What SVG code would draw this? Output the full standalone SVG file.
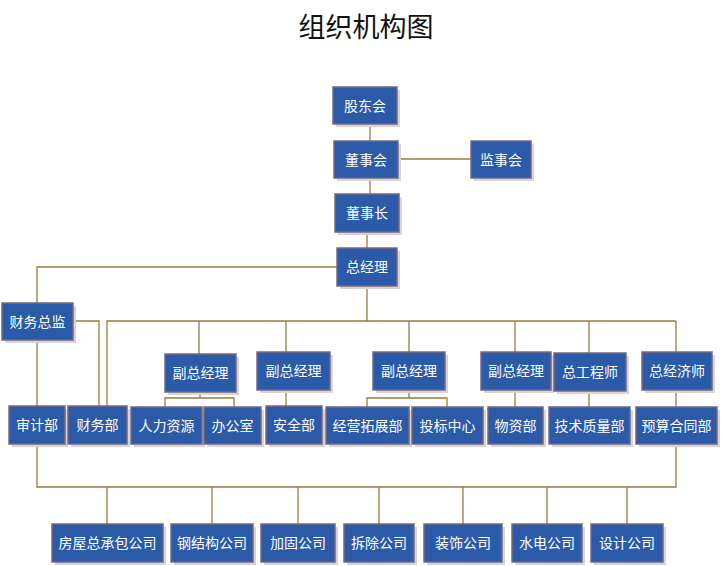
<svg xmlns="http://www.w3.org/2000/svg" width="721" height="566" viewBox="0 0 721 566">
<style>
.sh{fill:#dcd3d3}
.bx{fill:#2a5aa8;stroke:#76687e;stroke-width:1.5}
.t{font-family:"Noto Sans CJK SC","Noto Sans",sans-serif;font-size:14px;fill:#ffffff;text-anchor:middle}
.title{font-family:"Noto Sans CJK SC","Noto Sans",sans-serif;font-size:27px;fill:#111111;text-anchor:middle}
.c{fill:none;stroke:#9c7b3f;stroke-width:1.3}
</style>
<rect width="721" height="566" fill="#ffffff"/>
<text class="title" x="366" y="37">组织机构图</text>
<g id="connectors" class="c">
<path d="M370,124V141"/>
<path d="M398,159H471"/>
<path d="M370,178V194"/>
<path d="M367,232V248"/>
<path d="M337,267H37V303"/>
<path d="M367,286V321"/>
<path d="M107,406V321H676"/>
<path d="M73,321H99V406"/>
<path d="M37,340V406"/>
<path d="M199,321V354"/>
<path d="M286,321V352"/>
<path d="M409,321V352"/>
<path d="M515,321V352"/>
<path d="M589,321V353"/>
<path d="M676,321V352"/>
<path d="M200,392V398"/>
<path d="M165,407V398H234V407"/>
<path d="M286,390V406"/>
<path d="M409,390V398"/>
<path d="M367,407V398H447V407"/>
<path d="M515,390V407"/>
<path d="M589,391V407"/>
<path d="M676,390V407"/>
<path d="M37,444V487H676V444"/>
<path d="M107,487V524"/>
<path d="M212,487V524"/>
<path d="M298,487V524"/>
<path d="M379,487V524"/>
<path d="M463,487V524"/>
<path d="M547,487V524"/>
<path d="M627,487V524"/>
</g>
<g id="n1"><rect class="sh" x="336" y="90" width="64" height="37"/><rect class="bx" x="333" y="87" width="64" height="37"/><text class="t" x="365" y="110.5">股东会</text></g>
<g id="n2"><rect class="sh" x="337" y="144" width="64" height="37"/><rect class="bx" x="334" y="141" width="64" height="37"/><text class="t" x="366" y="164.5">董事会</text></g>
<g id="n3"><rect class="sh" x="474" y="144" width="60" height="37"/><rect class="bx" x="471" y="141" width="60" height="37"/><text class="t" x="501" y="164.5">监事会</text></g>
<g id="n4"><rect class="sh" x="338" y="197" width="64" height="38"/><rect class="bx" x="335" y="194" width="64" height="38"/><text class="t" x="367" y="218">董事长</text></g>
<g id="n5"><rect class="sh" x="340" y="251" width="60" height="38"/><rect class="bx" x="337" y="248" width="60" height="38"/><text class="t" x="367" y="272">总经理</text></g>
<g id="n6"><rect class="sh" x="5" y="306" width="71" height="37"/><rect class="bx" x="2" y="303" width="71" height="37"/><text class="t" x="37.5" y="326.5">财务总监</text></g>
<g id="n7"><rect class="sh" x="168" y="357" width="71" height="38"/><rect class="bx" x="165" y="354" width="71" height="38"/><text class="t" x="200.5" y="378">副总经理</text></g>
<g id="n8"><rect class="sh" x="260" y="355" width="73" height="38"/><rect class="bx" x="257" y="352" width="73" height="38"/><text class="t" x="293.5" y="376">副总经理</text></g>
<g id="n9"><rect class="sh" x="376" y="355" width="72" height="38"/><rect class="bx" x="373" y="352" width="72" height="38"/><text class="t" x="409" y="376">副总经理</text></g>
<g id="n10"><rect class="sh" x="484" y="355" width="70" height="38"/><rect class="bx" x="481" y="352" width="70" height="38"/><text class="t" x="516" y="376">副总经理</text></g>
<g id="n11"><rect class="sh" x="557" y="356" width="72" height="38"/><rect class="bx" x="554" y="353" width="72" height="38"/><text class="t" x="590" y="377">总工程师</text></g>
<g id="n12"><rect class="sh" x="645" y="355" width="70" height="38"/><rect class="bx" x="642" y="352" width="70" height="38"/><text class="t" x="677" y="376">总经济师</text></g>
<g id="n13"><rect class="sh" x="12" y="409" width="56" height="38"/><rect class="bx" x="9" y="406" width="56" height="38"/><text class="t" x="37" y="430">审计部</text></g>
<g id="n14"><rect class="sh" x="71" y="409" width="59" height="38"/><rect class="bx" x="68" y="406" width="59" height="38"/><text class="t" x="97.5" y="430">财务部</text></g>
<g id="n15"><rect class="sh" x="134" y="410" width="71" height="37"/><rect class="bx" x="131" y="407" width="71" height="37"/><text class="t" x="166.5" y="430.5">人力资源</text></g>
<g id="n16"><rect class="sh" x="207" y="410" width="57" height="37"/><rect class="bx" x="204" y="407" width="57" height="37"/><text class="t" x="232.5" y="430.5">办公室</text></g>
<g id="n17"><rect class="sh" x="269" y="409" width="56" height="38"/><rect class="bx" x="266" y="406" width="56" height="38"/><text class="t" x="294" y="430">安全部</text></g>
<g id="n18"><rect class="sh" x="329" y="410" width="83" height="37"/><rect class="bx" x="326" y="407" width="83" height="37"/><text class="t" x="367.5" y="430.5">经营拓展部</text></g>
<g id="n19"><rect class="sh" x="415" y="410" width="71" height="37"/><rect class="bx" x="412" y="407" width="71" height="37"/><text class="t" x="447.5" y="430.5">投标中心</text></g>
<g id="n20"><rect class="sh" x="491" y="410" width="55" height="37"/><rect class="bx" x="488" y="407" width="55" height="37"/><text class="t" x="515.5" y="430.5">物资部</text></g>
<g id="n21"><rect class="sh" x="552" y="410" width="81" height="37"/><rect class="bx" x="549" y="407" width="81" height="37"/><text class="t" x="589.5" y="430.5">技术质量部</text></g>
<g id="n22"><rect class="sh" x="639" y="410" width="81" height="37"/><rect class="bx" x="636" y="407" width="81" height="37"/><text class="t" x="676.5" y="430.5">预算合同部</text></g>
<g id="n23"><rect class="sh" x="55" y="527" width="111" height="38"/><rect class="bx" x="52" y="524" width="111" height="38"/><text class="t" x="107.5" y="548">房屋总承包公司</text></g>
<g id="n24"><rect class="sh" x="174" y="527" width="82" height="38"/><rect class="bx" x="171" y="524" width="82" height="38"/><text class="t" x="212" y="548">钢结构公司</text></g>
<g id="n25"><rect class="sh" x="264" y="527" width="74" height="38"/><rect class="bx" x="261" y="524" width="74" height="38"/><text class="t" x="298" y="548">加固公司</text></g>
<g id="n26"><rect class="sh" x="347" y="527" width="70" height="38"/><rect class="bx" x="344" y="524" width="70" height="38"/><text class="t" x="379" y="548">拆除公司</text></g>
<g id="n27"><rect class="sh" x="427" y="527" width="78" height="38"/><rect class="bx" x="424" y="524" width="78" height="38"/><text class="t" x="463" y="548">装饰公司</text></g>
<g id="n28"><rect class="sh" x="515" y="527" width="70" height="38"/><rect class="bx" x="512" y="524" width="70" height="38"/><text class="t" x="547" y="548">水电公司</text></g>
<g id="n29"><rect class="sh" x="594" y="527" width="72" height="38"/><rect class="bx" x="591" y="524" width="72" height="38"/><text class="t" x="627" y="548">设计公司</text></g>
</svg>
